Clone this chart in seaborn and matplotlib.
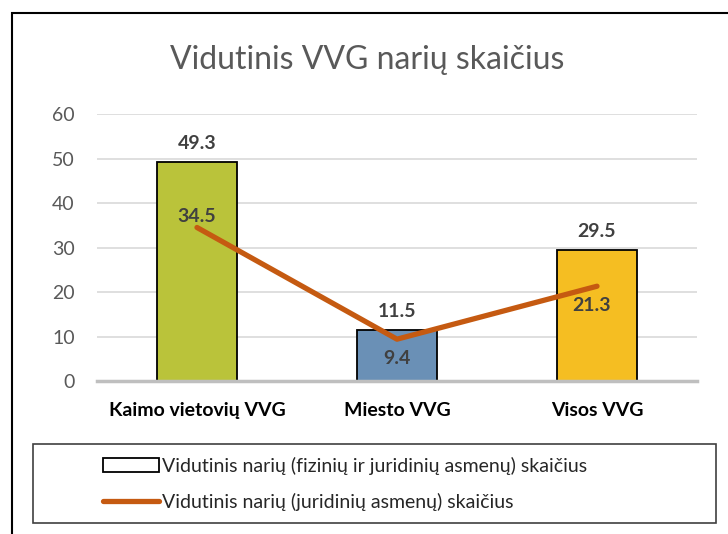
import numpy as np
import seaborn as sns
import matplotlib.pyplot as plt
from matplotlib.patches import Patch, Rectangle
from matplotlib.lines import Line2D

# | Data |
categories = ["Kaimo vietovių VVG", "Miesto VVG", "Visos VVG"]
all_members = [49.3, 11.5, 29.5]
legal_members = [34.5, 9.4, 21.3]
bar_colors = ["#BAC33A", "#6A90B6", "#F5BE22"]
line_color = "#C55A11"
title = "Vidutinis VVG narių skaičius"
legend_labels = ["Vidutinis narių (fizinių ir juridinių asmenų) skaičius",
                 "Vidutinis narių (juridinių asmenų) skaičius"]

sns.set_style("white")
plt.rcParams["font.family"] = ["Lato", "DejaVu Sans"]

fig = plt.figure(figsize=(7.28, 5.34), dpi=100)
ax = fig.add_axes([97 / 728, 0.2865, 600 / 728, 0.5])

sns.barplot(x=categories, y=all_members, hue=categories, palette=bar_colors,
            saturation=1, width=0.4, edgecolor="black", linewidth=1.3,
            legend=False, ax=ax)
xs = np.arange(len(categories))
sns.lineplot(x=xs, y=legal_members, color=line_color, linewidth=3.8, ax=ax,
             solid_capstyle="round")

# bar labels
for x, v in zip(xs, all_members):
    ax.annotate(f"{v}", (x, v), xytext=(0, 7), textcoords="offset points",
                ha="center", va="bottom", fontsize=14, fontweight="bold", color="#404040")
# line labels
offsets = [(0, 2), (0, -8), (-4, -8)]
vas = ["bottom", "top", "top"]
for x, v, off, va in zip(xs, legal_members, offsets, vas):
    ax.annotate(f"{v}", (x, v), xytext=off, textcoords="offset points",
                ha="center", va=va, fontsize=14, fontweight="bold", color="#404040")

ax.set_xlim(-0.5, 2.5)
ax.set_ylim(0, 60)
ax.set_yticks(range(0, 61, 10))
ax.yaxis.grid(True, color="#D9D9D9", linewidth=1.2)
ax.set_axisbelow(True)
for s in ["top", "right", "left"]:
    ax.spines[s].set_visible(False)
ax.spines["bottom"].set_color("#BFBFBF")
ax.spines["bottom"].set_linewidth(2.5)
ax.tick_params(axis="y", length=0, pad=16, labelsize=14, labelcolor="#595959")
ax.tick_params(axis="x", length=0, pad=15)
for lbl in ax.get_xticklabels():
    lbl.set_fontsize(14)
    lbl.set_fontweight("bold")
    lbl.set_color("black")
ax.set_xlabel("")
ax.set_ylabel("")

fig.text(367 / 728, 0.887, title, ha="center", va="center", fontsize=23, color="#595959")

# legend box
fig.patches.append(Rectangle((33 / 728, 11 / 534), 683 / 728, 79 / 534,
                             transform=fig.transFigure, fill=False,
                             edgecolor="#404040", linewidth=1.2))
handles = [Patch(facecolor="white", edgecolor="black", linewidth=1.3),
           Line2D([], [], color=line_color, linewidth=3.8, solid_capstyle="round")]
fig.legend(handles, legend_labels, loc="center left", bbox_to_anchor=(0.117, 0.094),
           frameon=False, fontsize=14, handlelength=2.9, handletextpad=0.15,
           labelspacing=0.9, labelcolor="#262626")

# outer frame
fig.patches.append(Rectangle((12 / 728, -0.1), 1.1, 0.1 + (534 - 13) / 534,
                             transform=fig.transFigure, fill=False,
                             edgecolor="black", linewidth=1.5))

fig.savefig("out.png", dpi=100)
